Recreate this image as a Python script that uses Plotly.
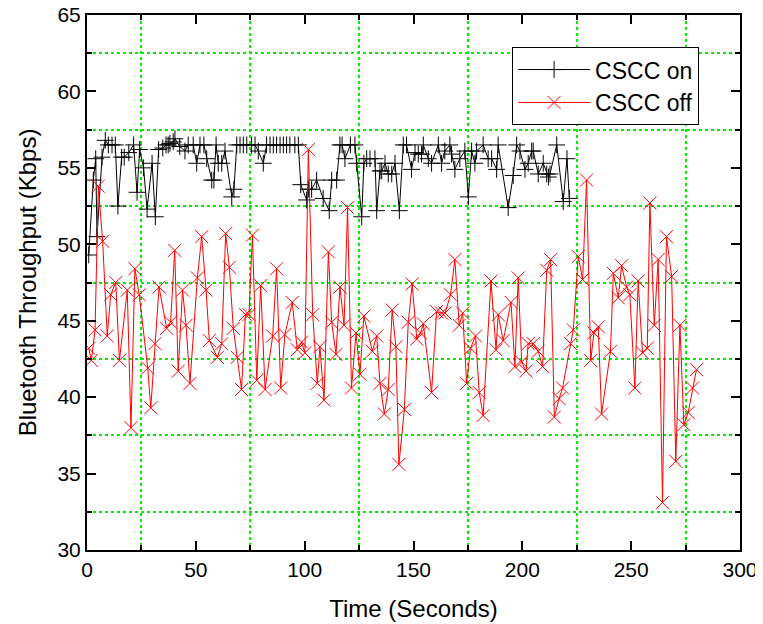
import plotly.graph_objects as go

# CSCC on (black, + markers)
on_time = [0.8, 2.9, 4.0, 4.6, 6.9, 8.4, 9.8, 11.5, 13.0, 14.2, 15.9, 17.1, 19.2, 21.4, 23.0, 24.2, 26.0,
           27.6, 29.9, 31.4, 32.9, 34.8, 36.3, 37.3, 38.1, 39.6, 40.4, 42.6, 45.0, 46.5, 48.8,
           50.4, 51.9, 53.7, 55.0, 57.3, 58.3, 59.3, 60.3, 61.9, 63.4, 66.5, 67.5, 68.8, 70.3, 71.8,
           73.4, 75.6, 77.2, 78.7, 81.0, 82.5, 84.1, 85.6, 87.1, 88.7, 90.2, 91.7, 93.2, 95.5, 97.1,
           98.2, 100.9, 101.7, 103.2, 105.5, 108.5, 111.3, 112.4, 114.7, 116.2, 117.2, 118.5, 121.0,
           123.1, 123.9, 126.2, 127.2, 128.5, 130.0, 132.3, 133.1, 134.6, 135.4, 136.9, 138.4, 140.0,
           141.5, 143.5, 145.3, 146.8, 149.1, 150.7, 152.2, 153.7, 154.5, 156.8, 158.3, 161.4, 162.9,
           164.4, 166.7, 167.5, 169.0, 171.3, 173.6, 175.2, 176.7, 178.2, 179.0, 182.0, 184.3, 185.9,
           188.2, 188.9, 193.5, 195.8, 197.4, 198.9, 201.2, 202.7, 204.3, 205.0, 207.3, 209.6, 211.2,
           212.0, 212.7, 215.8, 218.8, 220.5, 221.6]
on_kbps = [49.3, 54.2, 55.6, 50.5, 55.7, 56.8, 56.5, 56.5, 56.5, 52.5, 55.7, 55.7, 56.0, 56.5, 53.4, 56.2, 55.0,
           52.3, 55.3, 51.8, 56.2, 56.3, 56.5, 56.5, 56.6, 56.7, 56.9, 56.4, 56.1, 56.5, 56.5,
           55.3, 56.5, 56.5, 55.6, 54.2, 54.2, 56.5, 55.3, 55.3, 56.1, 53.1, 53.6, 56.5, 56.5, 56.5,
           56.5, 56.5, 56.5, 56.1, 55.3, 56.5, 56.5, 56.5, 56.5, 56.5, 56.5, 56.5, 56.5, 56.5, 56.5,
           53.9, 52.9, 53.6, 53.6, 54.2, 53.0, 52.2, 54.2, 54.2, 56.5, 56.5, 55.6, 56.5,
           56.5, 55.3, 51.8, 55.3, 55.6, 55.6, 55.6, 52.2, 54.8, 54.8, 55.3, 54.6, 54.6,
           55.3, 52.2, 56.5, 56.5, 54.9, 56.0, 55.9, 55.9, 56.5, 55.6, 55.3, 56.5, 55.3,
           56.1, 56.5, 55.9, 54.9, 55.6, 56.1, 53.1, 56.1, 55.3, 56.1, 56.5, 55.6, 55.6,
           54.9, 56.5, 52.4, 54.5, 56.5, 56.1, 54.9, 55.3, 56.1, 56.1, 54.6, 55.3, 54.6,
           54.4, 54.6, 56.5, 52.8, 55.6, 53.0]

# CSCC off (red, x markers)
off_time = [0.8, 2.0, 3.7, 5.2, 7.2, 9.3, 10.9, 13.2, 14.9, 18.5, 20.2, 22.0, 24.0, 27.9, 29.3, 31.2,
            33.1, 36.6, 38.4, 40.3, 41.9, 43.9, 45.5, 47.3, 50.7, 52.7, 54.7, 56.2, 59.9, 61.9, 63.7,
            65.4, 67.2, 69.0, 71.0, 72.8, 74.4, 76.0, 78.0, 79.8, 81.8, 85.3, 87.1, 89.0, 90.9, 94.3,
            96.6, 98.6, 100.1, 101.7, 103.7, 105.8, 107.0, 108.9, 110.9, 112.4, 114.4, 116.2, 118.1,
            119.7, 121.5, 123.6, 125.4, 127.2, 131.1, 133.1, 134.6, 136.6, 138.4, 140.2, 141.9, 143.3,
            145.8, 147.6, 149.4, 151.5, 153.2, 154.5, 158.3, 160.6, 162.9, 164.5, 167.0, 169.0, 171.0,
            172.6, 174.4, 176.2, 178.5, 180.2, 182.0, 185.6, 187.9, 188.9, 191.2, 194.8, 196.6, 198.1,
            199.7, 201.7, 202.7, 205.0, 207.3, 209.3, 211.2, 213.0, 214.7, 216.9, 218.5, 222.2, 223.4,
            225.7, 227.7, 229.5, 231.4, 232.9, 234.9, 236.4, 240.5, 241.8, 244.1, 245.6, 247.9, 249.4,
            251.7, 253.2, 255.2, 257.4, 258.6, 260.6, 262.4, 264.4, 266.2, 268.6, 270.5, 272.4, 274.2,
            276.2, 278.2, 280.0]
off_kbps = [43.2, 42.4, 44.4, 53.8, 50.2, 44.0, 46.7, 47.5, 42.4, 47.0, 38.0, 48.4, 46.7, 41.9, 39.3, 43.5,
            47.2, 44.5, 44.9, 49.6, 41.7, 47.0, 44.7, 40.9, 47.8, 50.5, 47.0, 43.7, 42.6, 43.5, 50.7,
            48.5, 44.5, 42.6, 40.5, 45.4, 45.4, 50.6, 41.1, 47.3, 40.5, 44.0, 48.4, 40.6, 44.1, 46.2,
            43.1, 43.6, 42.9, 56.2, 45.4, 40.9, 43.3, 39.8, 49.5, 44.9, 42.8, 47.2, 44.7,
            52.4, 40.6, 44.2, 41.5, 45.3, 43.0, 44.0, 40.9, 38.9, 40.5, 45.7, 43.3, 35.6,
            39.2, 44.9, 47.4, 43.8, 44.2, 44.8, 40.3, 45.6, 45.5, 45.5, 46.7, 49.0, 44.7,
            45.5, 40.9, 43.2, 44.0, 40.3, 38.8, 47.6, 43.1, 45.4, 43.7, 46.2, 42.0, 47.8,
            42.3, 41.7, 43.5, 43.5, 43.0, 42.0, 48.3, 49.0, 38.7, 39.9, 40.6, 43.5, 44.4,
            49.2, 47.7, 54.2, 42.4, 44.2, 44.6, 38.9, 43.0, 48.1, 46.5, 48.6, 47.2, 46.7,
            40.6, 47.6, 42.9, 43.2, 52.7, 44.7, 49.0, 33.1, 50.5, 47.9, 35.8, 44.7, 38.2,
            39.0, 40.6, 41.8]

FONT = "Liberation Sans, Arial, sans-serif"
GRID = "#00f000"

fig = go.Figure()
fig.add_trace(go.Scatter(
    x=on_time, y=on_kbps, name="CSCC on", mode="lines+markers",
    line=dict(color="black", width=1),
    marker=dict(symbol="cross-thin", size=12, line=dict(color="black", width=1), color="black"),
))
fig.add_trace(go.Scatter(
    x=off_time, y=off_kbps, name="CSCC off", mode="lines+markers",
    line=dict(color="red", width=1),
    marker=dict(symbol="x-thin", size=13, line=dict(color="red", width=1), color="red"),
))

axis_common = dict(
    showline=True, linecolor="black", linewidth=2, mirror="allticks",
    ticks="inside", ticklen=9, tickwidth=2, tickcolor="black",
    showgrid=False, zeroline=False, automargin=False, ticklabeloverflow="allow",
    tickfont=dict(family=FONT, size=21, color="black"),
)

# page body has an 8px margin, so the figure is sized/offset to compensate
fig.update_layout(
    width=755, height=616,
    margin=dict(l=79, r=23, t=7, b=74),
    paper_bgcolor="white", plot_bgcolor="white",
    font=dict(family=FONT, color="black"),
    showlegend=True,
    legend=dict(
        x=0.651, y=0.94, xanchor="left", yanchor="top",
        bgcolor="white", bordercolor="black", borderwidth=1,
        font=dict(family=FONT, size=23, color="black"),
        itemwidth=72, tracegroupgap=0,
    ),
    xaxis=dict(
        range=[0, 300], dtick=50, tick0=0,
        title=dict(text="Time (Seconds)", font=dict(family=FONT, size=24), standoff=20),
        minor=dict(dtick=25, tick0=0, ticks="inside", ticklen=5, tickwidth=2, tickcolor="black",
                   showgrid=True, gridcolor=GRID, griddash="dot", gridwidth=1.5),
        **axis_common,
    ),
    yaxis=dict(
        range=[30, 65], dtick=5, tick0=30,
        title=dict(text="Bluetooth Throughput (Kbps)", font=dict(family=FONT, size=24), standoff=14),
        minor=dict(dtick=2.5, tick0=30, ticks="inside", ticklen=5, tickwidth=2, tickcolor="black",
                   showgrid=True, gridcolor=GRID, griddash="dot", gridwidth=1.5),
        **axis_common,
    ),
)

fig.write_html("out.html")
